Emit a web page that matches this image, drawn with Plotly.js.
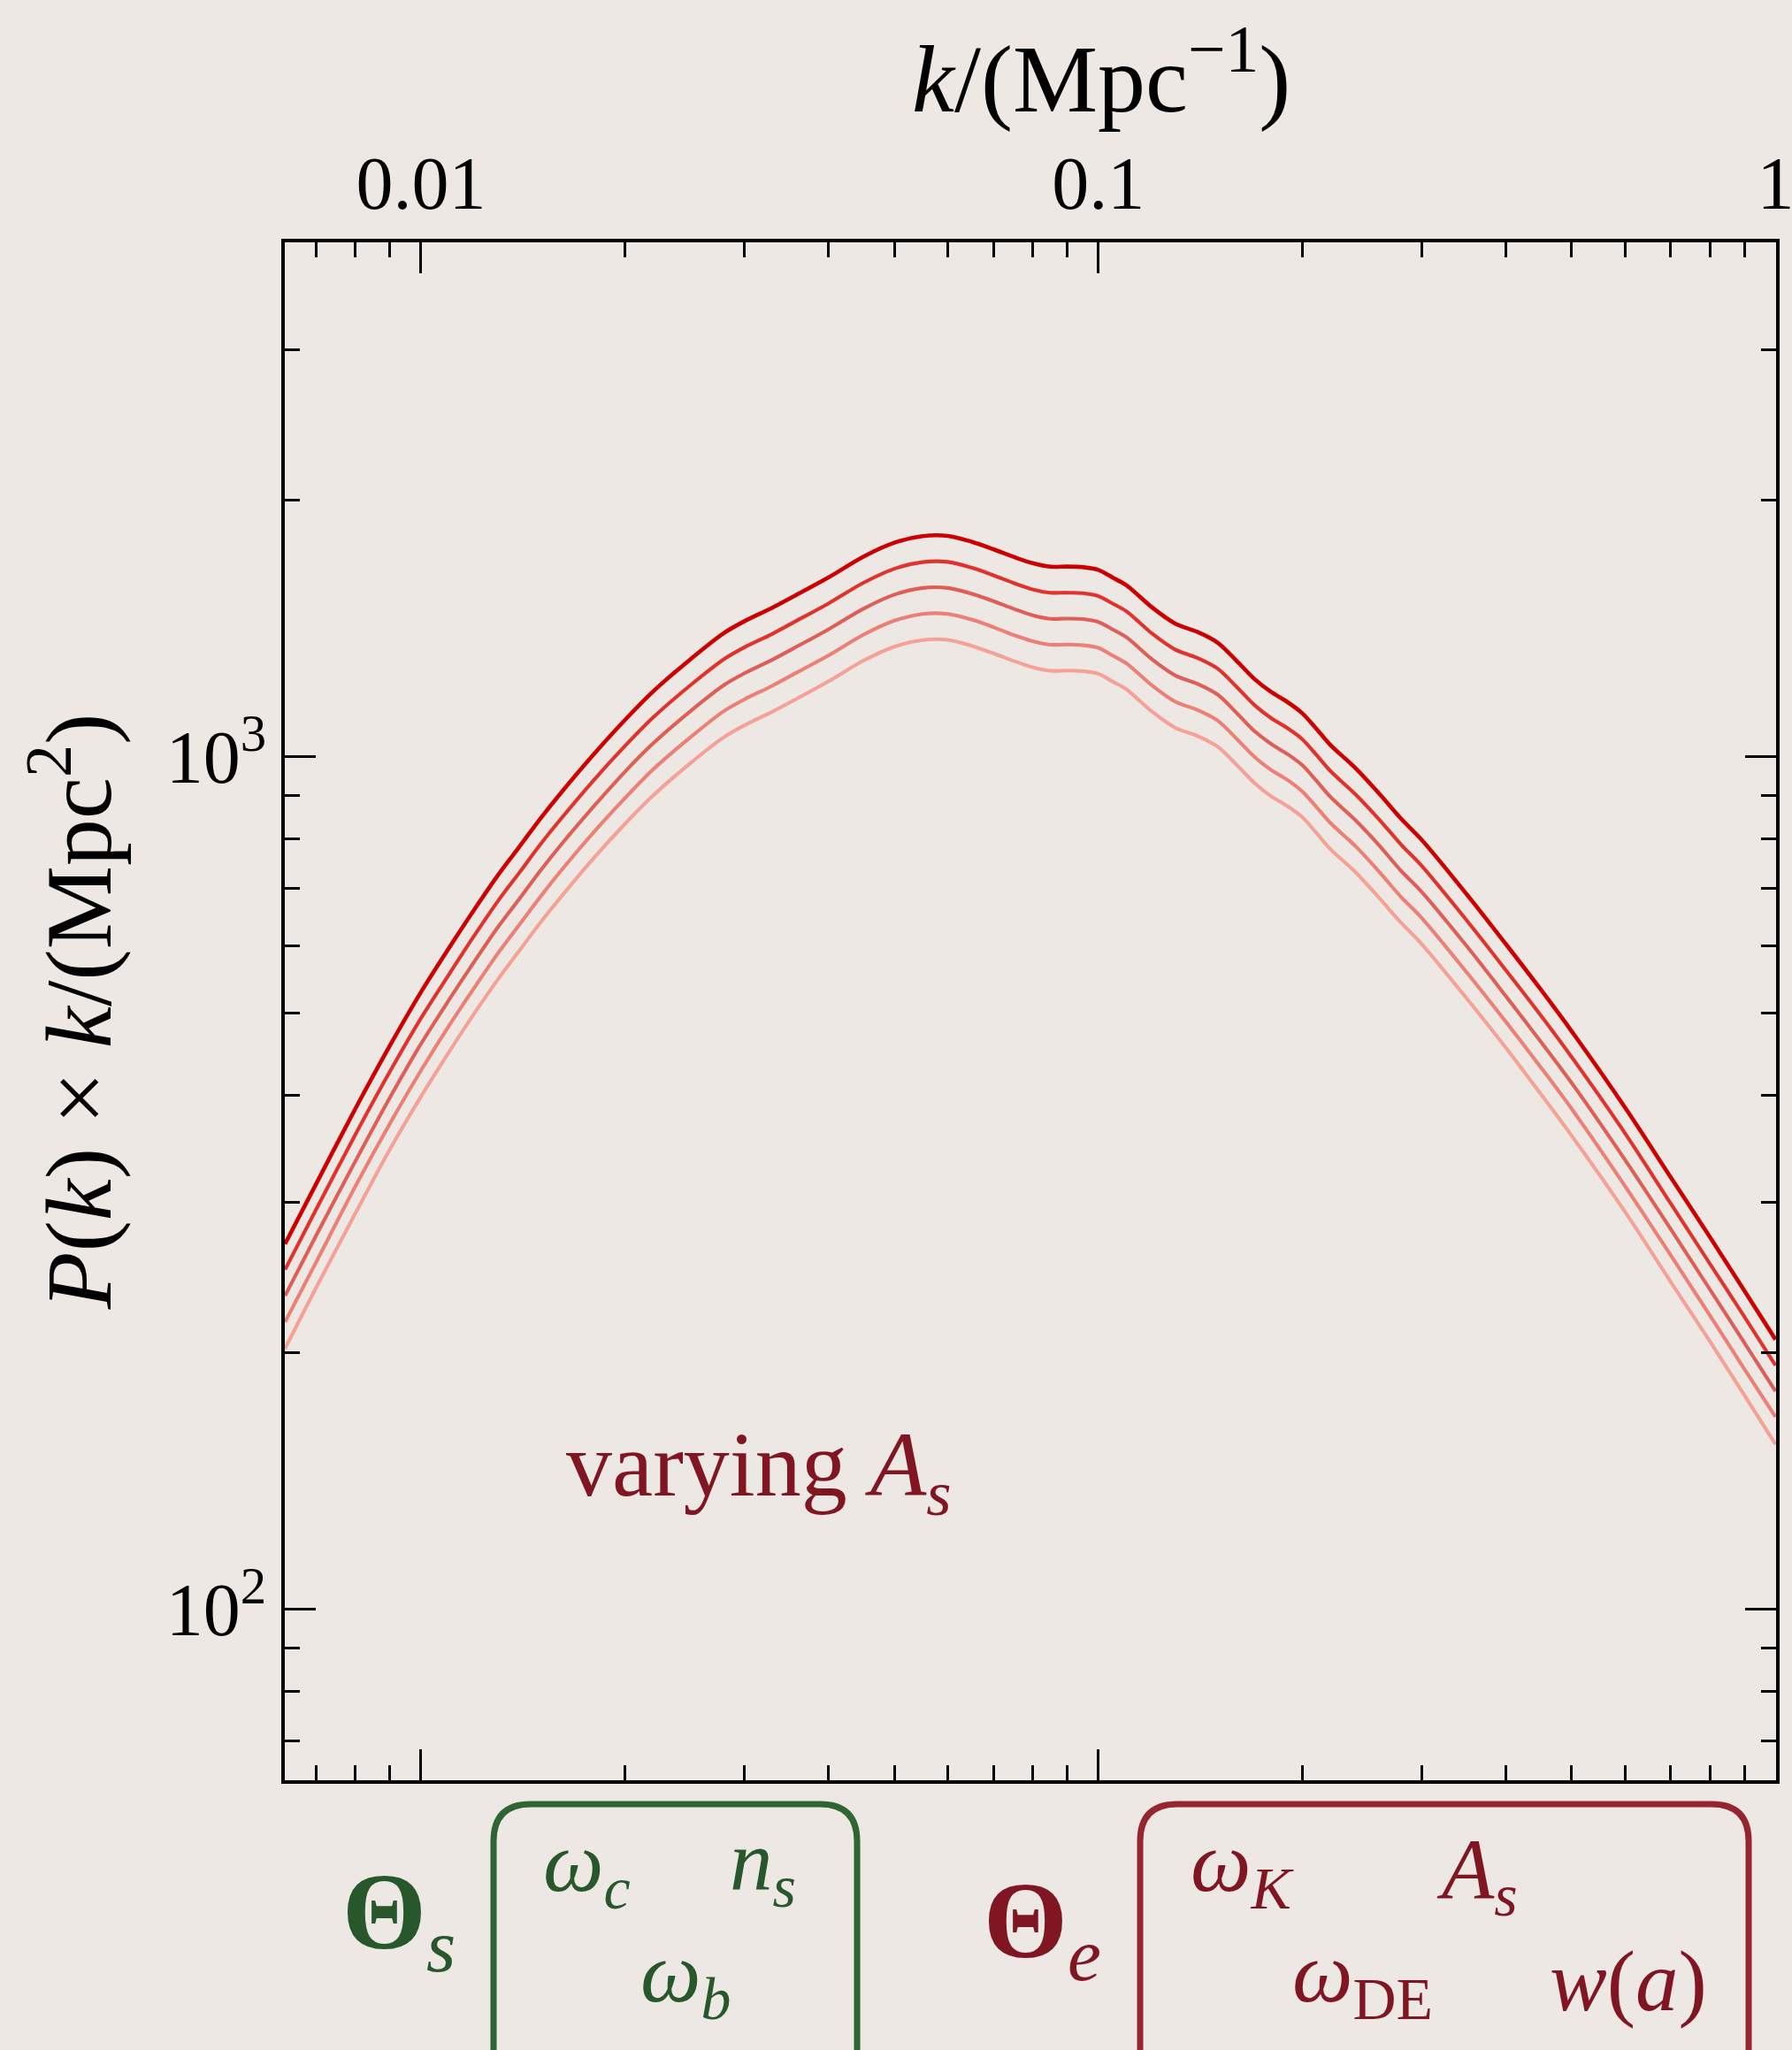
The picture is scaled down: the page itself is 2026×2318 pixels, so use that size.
<!DOCTYPE html>
<html>
<head>
<meta charset="utf-8">
<script src="https://cdn.plot.ly/plotly-3.0.1.min.js"></script>
<style>html,body{margin:0;padding:0;background:#ede8e3;}</style>
</head>
<body>
<div id="chart" style="width:2026px;height:2318px;"></div>
<script>
// wavenumber k in 1/Mpc
const kValues = [0.0063,0.007,0.008,0.009,0.010,0.011,0.012,0.013,0.014,0.015,0.016,0.018,0.020,0.022,0.025,0.028,0.030,0.033,0.036,0.040,0.045,0.050,0.055,0.060,0.065,0.070,0.075,0.080,0.085,0.090,0.095,0.100,0.105,0.110,0.115,0.120,0.130,0.140,0.150,0.160,0.170,0.180,0.190,0.200,0.210,0.220,0.240,0.260,0.280,0.300,0.350,0.400,0.450,0.500,0.600,0.700,0.800,0.900,1.000];
// P(k) x k for five values of A_s (highest to lowest)
const pkAs1 = [268,315,386,458,529,596,662,726,785,845,901,1006,1103,1191,1300,1395,1440,1494,1550,1622,1715,1781,1813,1814,1786,1750,1714,1685,1669,1670,1667,1655,1621,1588,1541,1496,1431,1400,1360,1295,1233,1190,1159,1124,1077,1032,968,904,845,799,689,602,533,476,387,321,273,236,207];
const pkAs2 = [250,294,360,427,493,555,617,677,732,788,840,938,1028,1110,1212,1300,1342,1392,1445,1512,1598,1660,1690,1691,1665,1631,1597,1570,1556,1556,1554,1542,1511,1480,1436,1394,1334,1305,1268,1207,1149,1109,1080,1048,1004,962,902,843,788,745,642,561,497,444,361,299,254,220,193];
const pkAs3 = [233,274,335,398,460,518,575,631,682,734,783,874,959,1035,1130,1212,1251,1298,1347,1410,1490,1548,1576,1576,1552,1521,1490,1464,1450,1451,1449,1438,1409,1380,1339,1300,1244,1217,1182,1125,1071,1034,1007,977,936,897,841,786,734,694,599,523,463,414,336,279,237,205,180];
const pkAs4 = [217,255,313,371,428,483,536,588,636,684,730,815,893,965,1053,1130,1166,1210,1256,1314,1389,1443,1469,1469,1447,1418,1388,1365,1352,1353,1350,1341,1313,1286,1248,1212,1159,1134,1102,1049,999,964,939,910,872,836,784,732,684,647,558,488,432,386,313,260,221,191,168];
const pkAs5 = [202,238,291,346,399,450,500,548,593,638,680,760,833,899,982,1053,1087,1128,1170,1225,1295,1345,1369,1370,1348,1321,1294,1272,1260,1261,1259,1250,1224,1199,1163,1129,1080,1057,1027,978,931,898,875,849,813,779,731,682,638,603,520,455,402,359,292,242,206,178,156];
const seriesValues = [pkAs1, pkAs2, pkAs3, pkAs4, pkAs5];
const seriesColors = ['#cc0000', '#e0332d', '#de5e58', '#ec7f76', '#f5a195'];

const xTickVals = [0.01, 0.1, 1];
const xTickText = ['0.01', '0.1', '1'];
const yTickVals = [100, 1000];
const yTickText = ['10<sup>2</sup>', '10<sup>3</sup>'];

// minor ticks at 2..9 x decade
function minorTicks(d0, d1) {
  const out = [];
  for (let d = d0; d <= d1; d++) for (let m = 2; m <= 9; m++) out.push(m * Math.pow(10, d));
  return out;
}

// pixel -> paper helpers for the decorations
const L = 322, R = 2008, T = 274, B = 2013;
const px = X => (X - L) / (R - L);
const py = Y => (B - Y) / (B - T);
function roundBox(x0, y0, x1, y1, r) {
  const p = (X, Y) => px(X).toFixed(5) + ',' + py(Y).toFixed(5);
  return 'M' + p(x0 + r, y0) + ' L' + p(x1 - r, y0) + ' Q' + p(x1, y0) + ' ' + p(x1, y0 + r) +
    ' L' + p(x1, y1 - r) + ' Q' + p(x1, y1) + ' ' + p(x1 - r, y1) +
    ' L' + p(x0 + r, y1) + ' Q' + p(x0, y1) + ' ' + p(x0, y1 - r) +
    ' L' + p(x0, y0 + r) + ' Q' + p(x0, y0) + ' ' + p(x0 + r, y0) + ' Z';
}

const serif = 'Liberation Serif, DejaVu Serif, serif';
const green = '#27572b', greenBox = '#2f6533';
const red = '#7f1622', redBox = '#952630';

const traces = seriesValues.map((vals, i) => ({
  x: kValues, y: vals, type: 'scatter', mode: 'lines',
  line: {color: seriesColors[i], width: i === 0 ? 4.6 : 4.1, shape: 'spline', smoothing: 0.9},
  hoverinfo: 'skip'
})).reverse();

function ann(text, X, Y, size, color, extra) {
  return Object.assign({
    text: text, xref: 'paper', yref: 'paper', x: px(X), y: py(Y),
    xanchor: 'center', yanchor: 'middle', showarrow: false,
    font: {family: serif, size: size, color: color}
  }, extra || {});
}

const layout = {
  width: 2026, height: 2318,
  paper_bgcolor: '#ede8e3', plot_bgcolor: '#ede8e3',
  margin: {l: L, r: 2026 - R, t: T, b: 2318 - B, pad: 0},
  showlegend: false,
  xaxis: {
    type: 'log', range: [-2.201, 0.0008], side: 'top',
    tickmode: 'array', tickvals: xTickVals, ticktext: xTickText,
    ticklabeloverflow: 'allow',
    ticks: 'inside', ticklen: 35, tickwidth: 3, tickcolor: '#000',
    minor: {tickmode: 'array', tickvals: minorTicks(-3, -1), ticks: 'inside', ticklen: 17, tickwidth: 3, tickcolor: '#000', showgrid: false},
    showline: true, linewidth: 4, linecolor: '#000', mirror: 'ticks',
    showgrid: false, zeroline: false,
    tickfont: {family: serif, size: 84, color: '#000'}
  },
  yaxis: {
    type: 'log', range: [1.799, 3.603],
    tickmode: 'array', tickvals: yTickVals, ticktext: yTickText,
    ticks: 'inside', ticklen: 35, tickwidth: 3, tickcolor: '#000',
    minor: {tickmode: 'array', tickvals: minorTicks(1, 3), ticks: 'inside', ticklen: 17, tickwidth: 3, tickcolor: '#000', showgrid: false},
    showline: true, linewidth: 4, linecolor: '#000', mirror: 'ticks',
    showgrid: false, zeroline: false,
    tickfont: {family: serif, size: 84, color: '#000'},
    title: {text: '<i>P</i>(<i>k</i>) × <i>k</i>/(Mpc<sup>2</sup>)', font: {family: serif, size: 106, color: '#000'}, standoff: 28}
  },
  shapes: [
    {type: 'path', xref: 'paper', yref: 'paper', path: roundBox(558, 2040, 969, 2400, 42), line: {color: greenBox, width: 7}, fillcolor: 'rgba(0,0,0,0)'},
    {type: 'path', xref: 'paper', yref: 'paper', path: roundBox(1289, 2040, 1977, 2400, 42), line: {color: redBox, width: 7}, fillcolor: 'rgba(0,0,0,0)'}
  ],
  annotations: [
    ann('<i>k</i>/(Mpc<sup>−1</sup>)', 1245, 82, 108, '#000'),
    ann('varying <i>A</i><sub><i>s</i></sub>', 858, 1663, 104, red),
    ann('<b>Θ</b><sub><i>s</i></sub>', 451, 2170, 122, green),
    ann('<i>ω</i><sub><i>c</i></sub>', 663, 2112, 97, green),
    ann('<i>n</i><sub><i>s</i></sub>', 862, 2110, 97, green),
    ann('<i>ω</i><sub><i>b</i></sub>', 775, 2237, 97, green),
    ann('<b>Θ</b><sub><i>e</i></sub>', 1178, 2180, 122, red),
    ann('<i>ω</i><sub><i>K</i></sub>', 1405, 2112, 97, red),
    ann('<i>A</i><sub><i>s</i></sub>', 1670, 2120, 97, red),
    ann('<i>ω</i><sub>DE</sub>', 1540, 2237, 97, red),
    ann('<i>w</i>(<i>a</i>)', 1841, 2240, 97, red)
  ]
};

Plotly.newPlot('chart', traces, layout, {staticPlot: true, displayModeBar: false});
</script>
</body>
</html>
